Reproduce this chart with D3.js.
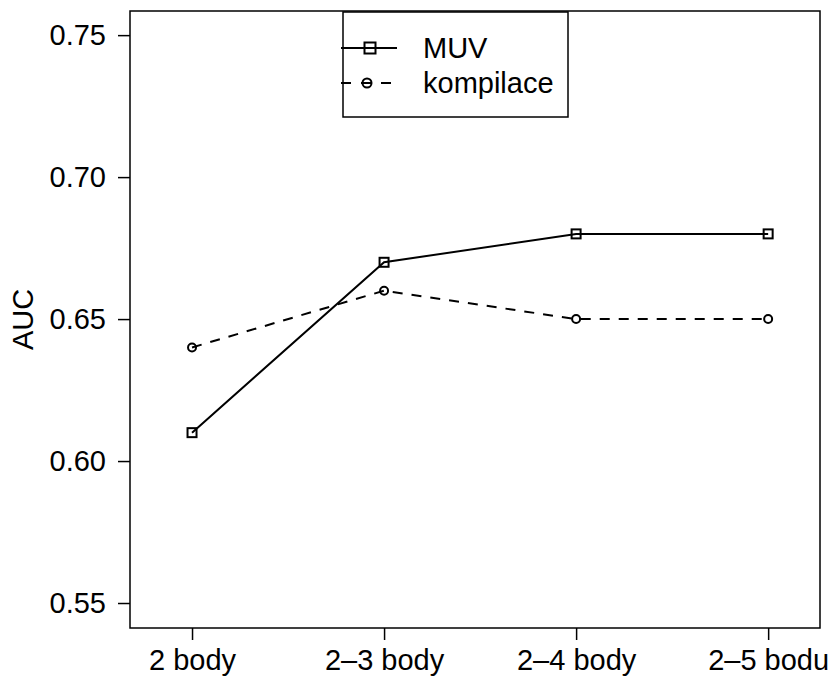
<!DOCTYPE html>
<html>
<head>
<meta charset="utf-8">
<script src="https://cdn.jsdelivr.net/npm/d3@7"></script>
<style>
  body { margin: 0; background: #fff; }
  text { font-family: "Liberation Sans", Arial, sans-serif; fill: #000; }
</style>
</head>
<body>
<div id="chart"></div>
<script>
// chart data
var categories = ["2 body", "2\u20133 body", "2\u20134 body", "2\u20135 bodu"];
var muvValues = [0.61, 0.67, 0.68, 0.68];
var kompilaceValues = [0.64, 0.66, 0.65, 0.65];
var yTicks = [0.55, 0.60, 0.65, 0.70, 0.75];
var seriesNames = ["MUV", "kompilace"];

var svgWidth = 835;
var svgHeight = 676;
var fontSize = 29;

// plot box (like R base graphics)
var box = { left: 130, right: 820, top: 11, bottom: 628 };

var svg = d3.select("#chart")
  .append("svg")
  .attr("width", svgWidth)
  .attr("height", svgHeight);

var xScale = d3.scaleLinear()
  .domain([0.677, 4.27])
  .range([box.left, box.right]);

var yScale = d3.scaleLinear()
  .domain([0.5412, 0.7585])
  .range([box.bottom, box.top]);

// box
svg.append("rect")
  .attr("x", box.left)
  .attr("y", box.top)
  .attr("width", box.right - box.left)
  .attr("height", box.bottom - box.top)
  .attr("fill", "none")
  .attr("stroke", "#000")
  .attr("stroke-width", 1.5);

// x axis
var xAxis = d3.axisBottom(xScale)
  .tickValues([1, 2, 3, 4])
  .tickFormat((d, i) => categories[i])
  .tickSize(12)
  .tickPadding(9);

var gx = svg.append("g")
  .attr("transform", `translate(0, ${box.bottom})`)
  .call(xAxis);
gx.select(".domain").remove();
gx.selectAll("line").attr("stroke-width", 1.5);
gx.selectAll("text")
  .attr("font-size", fontSize)
  .attr("font-family", "Liberation Sans, Arial, sans-serif");

// y axis
var yAxis = d3.axisLeft(yScale)
  .tickValues(yTicks)
  .tickFormat(d3.format(".2f"))
  .tickSize(12)
  .tickPadding(12);

var gy = svg.append("g")
  .attr("transform", `translate(${box.left}, 0)`)
  .call(yAxis);
gy.select(".domain").remove();
gy.selectAll("line").attr("stroke-width", 1.5);
gy.selectAll("text")
  .attr("font-size", fontSize)
  .attr("font-family", "Liberation Sans, Arial, sans-serif");

// y label
svg.append("text")
  .attr("transform", `translate(23, ${(box.top + box.bottom) / 2}) rotate(-90)`)
  .attr("text-anchor", "middle")
  .attr("dy", "0.35em")
  .attr("font-size", fontSize)
  .text("AUC");

var line = d3.line()
  .x((d, i) => xScale(i + 1))
  .y(d => yScale(d));

// MUV series
svg.append("path")
  .datum(muvValues)
  .attr("d", line)
  .attr("fill", "none")
  .attr("stroke", "#000")
  .attr("stroke-width", 2);

svg.selectAll(".sq")
  .data(muvValues)
  .enter()
  .append("rect")
  .attr("class", "sq")
  .attr("x", (d, i) => xScale(i + 1) - 4.5)
  .attr("y", d => yScale(d) - 4.5)
  .attr("width", 9)
  .attr("height", 9)
  .attr("fill", "none")
  .attr("stroke", "#000")
  .attr("stroke-width", 2);

// kompilace series
svg.append("path")
  .datum(kompilaceValues)
  .attr("d", line)
  .attr("fill", "none")
  .attr("stroke", "#000")
  .attr("stroke-width", 2)
  .attr("stroke-dasharray", "10,9");

svg.selectAll(".circ")
  .data(kompilaceValues)
  .enter()
  .append("circle")
  .attr("class", "circ")
  .attr("cx", (d, i) => xScale(i + 1))
  .attr("cy", d => yScale(d))
  .attr("r", 4)
  .attr("fill", "none")
  .attr("stroke", "#000")
  .attr("stroke-width", 2);

// legend
var legend = svg.append("g");
legend.append("rect")
  .attr("x", 343)
  .attr("y", 12)
  .attr("width", 225)
  .attr("height", 105)
  .attr("fill", "#fff")
  .attr("stroke", "#000")
  .attr("stroke-width", 1.5);

var rowY = [48, 83];

legend.append("line")
  .attr("x1", 341).attr("x2", 397)
  .attr("y1", rowY[0]).attr("y2", rowY[0])
  .attr("stroke", "#000")
  .attr("stroke-width", 2);
legend.append("rect")
  .attr("x", 364.5).attr("y", rowY[0] - 5.5)
  .attr("width", 11).attr("height", 11)
  .attr("fill", "none")
  .attr("stroke", "#000")
  .attr("stroke-width", 2);

legend.append("line")
  .attr("x1", 341).attr("x2", 391)
  .attr("y1", rowY[1]).attr("y2", rowY[1])
  .attr("stroke", "#000")
  .attr("stroke-width", 2)
  .attr("stroke-dasharray", "10,10");
legend.append("circle")
  .attr("cx", 367).attr("cy", rowY[1])
  .attr("r", 4.5)
  .attr("fill", "none")
  .attr("stroke", "#000")
  .attr("stroke-width", 2);

legend.selectAll(".lt")
  .data(seriesNames)
  .enter()
  .append("text")
  .attr("class", "lt")
  .attr("x", 423)
  .attr("y", (d, i) => rowY[i])
  .attr("dy", "0.35em")
  .attr("font-size", fontSize)
  .text(d => d);
</script>
</body>
</html>
